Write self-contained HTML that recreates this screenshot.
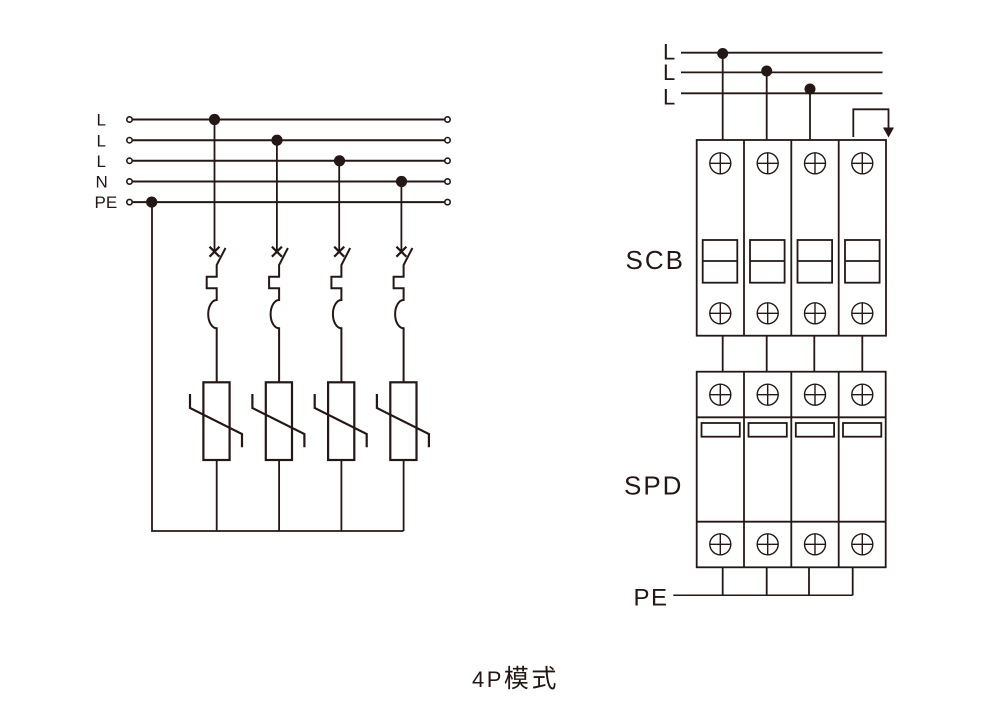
<!DOCTYPE html>
<html>
<head>
<meta charset="utf-8">
<style>
html,body{margin:0;padding:0;background:#fff;}
svg{display:block;}
text{font-family:"Liberation Sans","Noto Sans CJK SC",sans-serif;fill:#231815;}
</style>
</head>
<body>
<svg width="1000" height="703" viewBox="0 0 1000 703" xmlns="http://www.w3.org/2000/svg">
<rect width="1000" height="703" fill="#fff"/>
<g stroke="#231815" fill="none" stroke-width="2">
  <line x1="129.5" y1="119.5" x2="447.5" y2="119.5"/>
  <line x1="129.5" y1="140.2" x2="447.5" y2="140.2"/>
  <line x1="129.5" y1="160.8" x2="447.5" y2="160.8"/>
  <line x1="129.5" y1="181.5" x2="447.5" y2="181.5"/>
  <line x1="129.5" y1="202.1" x2="447.5" y2="202.1"/>
</g>
<g stroke="#231815" fill="#fff" stroke-width="1.6">
  <circle cx="129.5" cy="119.5" r="2.7"/>
  <circle cx="129.5" cy="140.2" r="2.7"/>
  <circle cx="129.5" cy="160.8" r="2.7"/>
  <circle cx="129.5" cy="181.5" r="2.7"/>
  <circle cx="129.5" cy="202.1" r="2.7"/>
  <circle cx="447.5" cy="119.5" r="2.7"/>
  <circle cx="447.5" cy="140.2" r="2.7"/>
  <circle cx="447.5" cy="160.8" r="2.7"/>
  <circle cx="447.5" cy="181.5" r="2.7"/>
  <circle cx="447.5" cy="202.1" r="2.7"/>
</g>
<g fill="#231815">
  <circle cx="214.5" cy="119.5" r="5.6"/>
  <circle cx="277" cy="140.2" r="5.6"/>
  <circle cx="339.5" cy="160.8" r="5.6"/>
  <circle cx="401.5" cy="181.5" r="5.6"/>
  <circle cx="151.7" cy="202.1" r="5.6"/>
</g>
<g font-size="17">
  <text x="96.5" y="125.6">L</text>
  <text x="96.5" y="146.3">L</text>
  <text x="96.5" y="166.9">L</text>
  <text x="95.5" y="187.6">N</text>
  <text x="94.5" y="208.2">PE</text>
</g>
<g stroke="#231815" fill="none" stroke-width="1.8">
  <polyline points="152,202 152,531 403.5,531"/>
  <g>
    <line x1="214.5" y1="119.5" x2="214.5" y2="252"/>
    <line x1="209.5" y1="246.7" x2="219.5" y2="256.7" stroke-width="2.2"/>
    <line x1="219.5" y1="246.7" x2="209.5" y2="256.7" stroke-width="2.2"/>
    <path d="M225.5 248 L216.7 265 V276.7 H206.7 V288.3 H216.7 V300 A8.5 14.15 0 0 0 216.7 328.3 V382.3" stroke-width="2"/>
    <rect x="203.4" y="382.3" width="26.2" height="77.7" stroke-width="2.2"/>
    <path d="M190 394 V408 L242 434 V447.3" stroke-width="2.2"/>
    <line x1="216.7" y1="460" x2="216.7" y2="531"/>
  </g>
  <g transform="translate(62.4,0)">
    <line x1="214.5" y1="140.2" x2="214.5" y2="252"/>
    <line x1="209.5" y1="246.7" x2="219.5" y2="256.7" stroke-width="2.2"/>
    <line x1="219.5" y1="246.7" x2="209.5" y2="256.7" stroke-width="2.2"/>
    <path d="M225.5 248 L216.7 265 V276.7 H206.7 V288.3 H216.7 V300 A8.5 14.15 0 0 0 216.7 328.3 V382.3" stroke-width="2"/>
    <rect x="203.4" y="382.3" width="26.2" height="77.7" stroke-width="2.2"/>
    <path d="M190 394 V408 L242 434 V447.3" stroke-width="2.2"/>
    <line x1="216.7" y1="460" x2="216.7" y2="531"/>
  </g>
  <g transform="translate(124.7,0)">
    <line x1="214.5" y1="160.8" x2="214.5" y2="252"/>
    <line x1="209.5" y1="246.7" x2="219.5" y2="256.7" stroke-width="2.2"/>
    <line x1="219.5" y1="246.7" x2="209.5" y2="256.7" stroke-width="2.2"/>
    <path d="M225.5 248 L216.7 265 V276.7 H206.7 V288.3 H216.7 V300 A8.5 14.15 0 0 0 216.7 328.3 V382.3" stroke-width="2"/>
    <rect x="203.4" y="382.3" width="26.2" height="77.7" stroke-width="2.2"/>
    <path d="M190 394 V408 L242 434 V447.3" stroke-width="2.2"/>
    <line x1="216.7" y1="460" x2="216.7" y2="531"/>
  </g>
  <g transform="translate(186.9,0)">
    <line x1="214.5" y1="181.5" x2="214.5" y2="252"/>
    <line x1="209.5" y1="246.7" x2="219.5" y2="256.7" stroke-width="2.2"/>
    <line x1="219.5" y1="246.7" x2="209.5" y2="256.7" stroke-width="2.2"/>
    <path d="M225.5 248 L216.7 265 V276.7 H206.7 V288.3 H216.7 V300 A8.5 14.15 0 0 0 216.7 328.3 V382.3" stroke-width="2"/>
    <rect x="203.4" y="382.3" width="26.2" height="77.7" stroke-width="2.2"/>
    <path d="M190 394 V408 L242 434 V447.3" stroke-width="2.2"/>
    <line x1="216.7" y1="460" x2="216.7" y2="531"/>
  </g>
</g>

<g font-size="22">
  <text x="663" y="59.3">L</text>
  <text x="663" y="79.8">L</text>
  <text x="663" y="104.5">L</text>
</g>
<g stroke="#231815" fill="none" stroke-width="1.8">
  <line x1="681" y1="52.7" x2="882.5" y2="52.7"/>
  <line x1="681" y1="72.4" x2="882.5" y2="72.4"/>
  <line x1="681" y1="93.3" x2="882.5" y2="93.3"/>
  <line x1="722.7" y1="53.5" x2="722.7" y2="140"/>
  <line x1="766.7" y1="71" x2="766.7" y2="140"/>
  <line x1="810" y1="89" x2="810" y2="140"/>
  <polyline points="853.3,137 853.3,109.3 888.5,109.3 888.5,129"/>
</g>
<polygon points="883,127.5 894,127.5 888.5,137.5" fill="#231815"/>
<g fill="#231815">
  <circle cx="722.7" cy="53.5" r="5.5"/>
  <circle cx="766.7" cy="71" r="5.5"/>
  <circle cx="810" cy="89" r="5.5"/>
</g>

<g stroke="#231815" fill="none" stroke-width="1.8">
  <rect x="696.7" y="140" width="189.3" height="195.7"/>
  <line x1="744" y1="140" x2="744" y2="335.7"/>
  <line x1="791.3" y1="140" x2="791.3" y2="335.7"/>
  <line x1="838.7" y1="140" x2="838.7" y2="335.7"/>
  <rect x="702.7" y="240" width="34.6" height="42.7"/>
  <line x1="702.7" y1="261" x2="737.3" y2="261"/>
  <rect x="750" y="240" width="34.6" height="42.7"/>
  <line x1="750" y1="261" x2="784.6" y2="261"/>
  <rect x="797.5" y="240" width="34.6" height="42.7"/>
  <line x1="797.5" y1="261" x2="832.1" y2="261"/>
  <rect x="845" y="240" width="34.6" height="42.7"/>
  <line x1="845" y1="261" x2="879.6" y2="261"/>
  <line x1="722.7" y1="335.7" x2="722.7" y2="371.7"/>
  <line x1="766.7" y1="335.7" x2="766.7" y2="371.7"/>
  <line x1="814.3" y1="335.7" x2="814.3" y2="371.7"/>
  <line x1="862.3" y1="335.7" x2="862.3" y2="371.7"/>
  <rect x="696.7" y="371.7" width="189" height="195.6"/>
  <line x1="744" y1="371.7" x2="744" y2="567.3"/>
  <line x1="791.3" y1="371.7" x2="791.3" y2="567.3"/>
  <line x1="838.7" y1="371.7" x2="838.7" y2="567.3"/>
  <line x1="696.7" y1="417.3" x2="885.7" y2="417.3"/>
  <line x1="696.7" y1="521.7" x2="885.7" y2="521.7"/>
  <rect x="701.5" y="423" width="38.3" height="13.7"/>
  <rect x="748.5" y="423" width="38.3" height="13.7"/>
  <rect x="795.8" y="423" width="38.3" height="13.7"/>
  <rect x="843" y="423" width="38.3" height="13.7"/>
  <line x1="722.7" y1="567.3" x2="722.7" y2="595.3"/>
  <line x1="766.7" y1="567.3" x2="766.7" y2="595.3"/>
  <line x1="809" y1="567.3" x2="809" y2="595.3"/>
  <line x1="852.7" y1="567.3" x2="852.7" y2="595.3"/>
  <line x1="673.3" y1="595.3" x2="852.7" y2="595.3" stroke-width="1.5"/>
</g>

<defs>
  <g id="scr" stroke="#231815" fill="none" stroke-width="1.4">
    <circle cx="0" cy="0" r="10.5"/>
    <line x1="-10.5" y1="0" x2="10.5" y2="0"/>
    <line x1="0" y1="-10.5" x2="0" y2="10.5"/>
  </g>
</defs>
<use href="#scr" x="720.3" y="163.3"/>
<use href="#scr" x="767.7" y="163.3"/>
<use href="#scr" x="815" y="163.3"/>
<use href="#scr" x="862.3" y="163.3"/>
<use href="#scr" x="720.3" y="313.3"/>
<use href="#scr" x="767.7" y="313.3"/>
<use href="#scr" x="815" y="313.3"/>
<use href="#scr" x="862.3" y="313.3"/>
<use href="#scr" x="720.3" y="394.7"/>
<use href="#scr" x="767.7" y="394.7"/>
<use href="#scr" x="815" y="394.7"/>
<use href="#scr" x="862.3" y="394.7"/>
<use href="#scr" x="720.3" y="544.3"/>
<use href="#scr" x="767.7" y="544.3"/>
<use href="#scr" x="815" y="544.3"/>
<use href="#scr" x="862.3" y="544.3"/>

<text x="625.5" y="268.8" font-size="26" letter-spacing="2">SCB</text>
<text x="624" y="494.5" font-size="26" letter-spacing="2">SPD</text>
<text x="633.5" y="605.5" font-size="24" letter-spacing="1.5">PE</text>

<text x="472" y="687" font-size="22" letter-spacing="2.5">4P<tspan font-size="25" font-family="'Noto Sans CJK SC',sans-serif">模式</tspan></text>
</svg>
</body>
</html>
